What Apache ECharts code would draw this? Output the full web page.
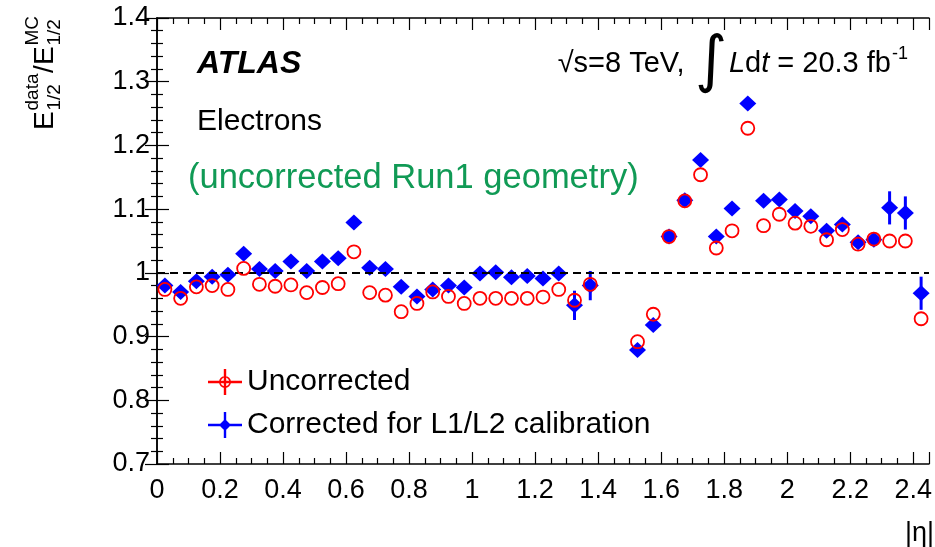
<!DOCTYPE html>
<html><head><meta charset="utf-8">
<script src="https://cdn.jsdelivr.net/npm/echarts@6/dist/echarts.min.js"></script>
<style>html,body{margin:0;padding:0;background:#fff}#c{width:935px;height:547px}</style>
</head><body><div id="c"></div>
<script>
// |eta| bin centres
const eta = [0.025,0.075,0.125,0.175,0.225,0.275,0.325,0.375,0.425,0.475,0.525,0.575,0.625,0.675,0.725,0.775,0.825,0.875,0.925,0.975,1.025,1.075,1.125,1.175,1.225,1.275,1.325,1.375,
             1.525,1.575,1.625,1.675,1.725,1.775,1.825,1.875,1.925,1.975,2.025,2.075,2.125,2.175,2.225,2.275,2.325,2.375,2.425];
// Corrected for L1/L2 calibration
const corrected = [0.980,0.970,0.987,0.994,0.997,1.030,1.006,1.003,1.018,1.003,1.018,1.023,1.079,1.008,1.006,0.978,0.963,0.974,0.980,0.977,0.999,1.001,0.993,0.995,0.991,0.999,0.949,0.980,
                   0.879,0.918,1.057,1.114,1.177,1.057,1.101,1.266,1.113,1.115,1.097,1.089,1.066,1.076,1.048,1.052,1.102,1.094,0.968];
const correctedErr = [0.004,0.004,0.004,0.004,0.004,0.004,0.004,0.004,0.004,0.004,0.004,0.004,0.004,0.004,0.004,0.004,0.004,0.004,0.004,0.004,0.004,0.004,0.004,0.004,0.004,0.004,0.023,0.023,
                      0.005,0.005,0.005,0.007,0.006,0.005,0.005,0.005,0.005,0.005,0.005,0.005,0.007,0.005,0.005,0.007,0.026,0.026,0.026];
// Uncorrected
const uncorrected = [0.974,0.960,0.978,0.980,0.974,1.007,0.982,0.979,0.981,0.969,0.977,0.983,1.033,0.969,0.965,0.939,0.952,0.970,0.963,0.952,0.960,0.960,0.960,0.960,0.962,0.974,0.957,0.982,
                     0.892,0.935,1.057,1.113,1.154,1.039,1.066,1.227,1.074,1.092,1.078,1.073,1.052,1.068,1.045,1.053,1.050,1.050,0.928];
const uncorrectedErr = [0.003,0.003,0.003,0.003,0.003,0.003,0.003,0.003,0.003,0.003,0.003,0.003,0.003,0.003,0.003,0.003,0.003,0.003,0.003,0.003,0.003,0.003,0.003,0.003,0.003,0.003,0.003,0.003,
                        0.003,0.003,0.003,0.003,0.003,0.003,0.003,0.003,0.003,0.003,0.003,0.003,0.003,0.003,0.003,0.003,0.003,0.003,0.003];
const referenceLine = 1.0;

const FONT = '"Liberation Sans", Arial, Helvetica, sans-serif';
const chart = echarts.init(document.getElementById('c'), null, {renderer: 'canvas'});

// error bars drawn only outside the marker (ROOT style)
function errBars(color, width, markerHalf) {
  return function (params, api) {
    const x = api.value(0), y = api.value(1), e = api.value(2);
    const c = api.coord([x, y]);
    const top = api.coord([x, y + e]);
    const bot = api.coord([x, y - e]);
    const children = [];
    if (c[1] - top[1] > markerHalf) {
      children.push({type: 'line', shape: {x1: c[0], y1: top[1], x2: c[0], y2: c[1] - markerHalf},
                     style: {stroke: color, lineWidth: width}});
    }
    if (bot[1] - c[1] > markerHalf) {
      children.push({type: 'line', shape: {x1: c[0], y1: c[1] + markerHalf, x2: c[0], y2: bot[1]},
                     style: {stroke: color, lineWidth: width}});
    }
    return {type: 'group', children: children};
  };
}

const redIcon = 'path://M0,11.8 L34,11.8 L34,14.2 L0,14.2 Z M15.8,0 L18.2,0 L18.2,26 L15.8,26 Z M11,13 A6,6 0 1,1 23,13 A6,6 0 1,1 11,13 Z M12.6,13 A4.4,4.4 0 1,0 21.4,13 A4.4,4.4 0 1,0 12.6,13 Z';
const blueIcon = 'path://M0,11.8 L34,11.8 L34,14.2 L0,14.2 Z M15.8,0 L18.2,0 L18.2,26 L15.8,26 Z M17,7 L23,13 L17,19 L11,13 Z';

const tickLabel = {color: '#000', fontSize: 27, fontFamily: FONT};
const axisLine = {show: true, lineStyle: {color: '#000', width: 1.5}};
const tStyle = (text, font, fill) => ({text: text, fill: fill || '#000', font: font,
  align: 'left', textAlign: 'left', verticalAlign: 'middle', textVerticalAlign: 'middle'});

const option = {
  backgroundColor: '#fff',
  animation: false,
  grid: {left: 157, right: 6, top: 18, bottom: 83},
  xAxis: [{
    type: 'value', min: 0, max: 2.45, interval: 0.2, position: 'bottom',
    axisLine: axisLine,
    axisTick: {inside: true, length: 12, lineStyle: {color: '#000', width: 1.2}},
    minorTick: {show: true, splitNumber: 4, length: 6, lineStyle: {color: '#000', width: 1.2}},
    splitLine: {show: false},
    axisLabel: Object.assign({margin: 13, showMaxLabel: false,
      formatter: v => String(parseFloat(v.toFixed(1)))}, tickLabel)
  }, {
    type: 'value', min: 0, max: 2.45, interval: 0.2, position: 'top',
    axisLine: axisLine,
    axisTick: {inside: true, length: 12, lineStyle: {color: '#000', width: 1.2}},
    minorTick: {show: true, splitNumber: 4, length: 6, lineStyle: {color: '#000', width: 1.2}},
    splitLine: {show: false}, axisLabel: {show: false}
  }],
  yAxis: [{
    type: 'value', min: 0.7, max: 1.4, interval: 0.1, position: 'left',
    axisLine: axisLine,
    axisTick: {inside: true, length: 12, lineStyle: {color: '#000', width: 1.2}},
    minorTick: {show: true, splitNumber: 5, length: 6, lineStyle: {color: '#000', width: 1.2}},
    splitLine: {show: false},
    axisLabel: Object.assign({margin: 7, formatter: v => String(parseFloat(v.toFixed(1)))}, tickLabel)
  }, {
    type: 'value', min: 0.7, max: 1.4, interval: 0.1, position: 'right',
    axisLine: axisLine,
    axisTick: {inside: true, length: 12, lineStyle: {color: '#000', width: 1.2}},
    minorTick: {show: true, splitNumber: 5, length: 6, lineStyle: {color: '#000', width: 1.2}},
    splitLine: {show: false}, axisLabel: {show: false}
  }],
  legend: {
    orient: 'vertical', left: 203, top: 362, itemWidth: 34, itemHeight: 26, itemGap: 13,
    selectedMode: false,
    textStyle: {color: '#000', fontSize: 30, fontFamily: FONT, lineHeight: 26, padding: [0, 0, 0, 0]},
    data: [
      {name: 'Uncorrected', icon: redIcon, itemStyle: {color: '#ff0000', borderWidth: 0}},
      {name: 'Corrected for L1/L2 calibration', icon: blueIcon, itemStyle: {color: '#0000ff', borderWidth: 0}}
    ]
  },
  series: [
    {
      name: 'corrErr', type: 'custom', renderItem: errBars('#0000ff', 3, 6), silent: true,
      data: eta.map((x, i) => [x, corrected[i], correctedErr[i]]), z: 2
    },
    {
      name: 'Corrected for L1/L2 calibration', type: 'scatter', symbol: 'diamond', symbolSize: [17, 16],
      itemStyle: {color: '#0000ff', opacity: 1}, z: 3,
      data: eta.map((x, i) => [x, corrected[i]]),
      markLine: {
        silent: true, symbol: 'none', label: {show: false}, animation: false,
        lineStyle: {color: '#000', type: [8, 5], width: 2},
        data: [{yAxis: referenceLine}]
      }
    },
    {
      name: 'uncErr', type: 'custom', renderItem: errBars('#ff0000', 2, 7), silent: true,
      data: eta.map((x, i) => [x, uncorrected[i], uncorrectedErr[i]]), z: 4
    },
    {
      name: 'Uncorrected', type: 'scatter', symbol: 'circle', symbolSize: 13,
      itemStyle: {color: 'rgba(255,255,255,0)', borderColor: '#ff0000', borderWidth: 1.8, opacity: 1}, z: 5,
      data: eta.map((x, i) => [x, uncorrected[i]])
    }
  ],
  graphic: [
    {type: 'text', x: 197, y: 64, style: tStyle('ATLAS', 'italic bold 32px ' + FONT)},
    {type: 'text', x: 197, y: 122, style: tStyle('Electrons', '30px ' + FONT)},
    {type: 'text', x: 188, y: 178, style: tStyle('(uncorrected Run1 geometry)', '34.5px ' + FONT, '#109a55')},
    {type: 'text', x: 908, y: 64, style: {
      text: '{a|√s=8 TeV, }{int|∫}{i|L}{a|d}{i|t}{a| = 20.3 fb}{sup|-1}',
      textAlign: 'right', align: 'right', textVerticalAlign: 'middle', verticalAlign: 'middle',
      rich: {
        a: {fontSize: 29, fontFamily: FONT, fill: '#000', color: '#000', verticalAlign: 'middle'},
        i: {fontSize: 29, fontFamily: FONT, fontStyle: 'italic', fill: '#000', color: '#000', verticalAlign: 'middle'},
        int: {fontSize: 62, fontFamily: '"DejaVu Sans"', fill: '#000', color: '#000', verticalAlign: 'middle', padding: [0, 2, 0, 2]},
        sup: {fontSize: 18, fontFamily: FONT, fill: '#000', color: '#000', verticalAlign: 'middle', padding: [0, 0, 20, 1]}
      }}},
    {type: 'text', x: 905, y: 534, style: tStyle('|η|', '27px ' + FONT)},
    {type: 'group', x: 55, y: 130, rotation: Math.PI / 2, children: [
      {type: 'text', x: 0, y: -10, style: tStyle('E', '28px ' + FONT)},
      {type: 'text', x: 19.5, y: -22, style: tStyle('data', '19px ' + FONT)},
      {type: 'text', x: 19.5, y: 0, style: tStyle('1/2', '19px ' + FONT)},
      {type: 'text', x: 57, y: -10, style: tStyle('/', '28px ' + FONT)},
      {type: 'text', x: 65, y: -10, style: tStyle('E', '28px ' + FONT)},
      {type: 'text', x: 84.5, y: -22, style: tStyle('MC', '19px ' + FONT)},
      {type: 'text', x: 84.5, y: 0, style: tStyle('1/2', '19px ' + FONT)}
    ]}
  ]
};
chart.setOption(option);
</script>
</body></html>
